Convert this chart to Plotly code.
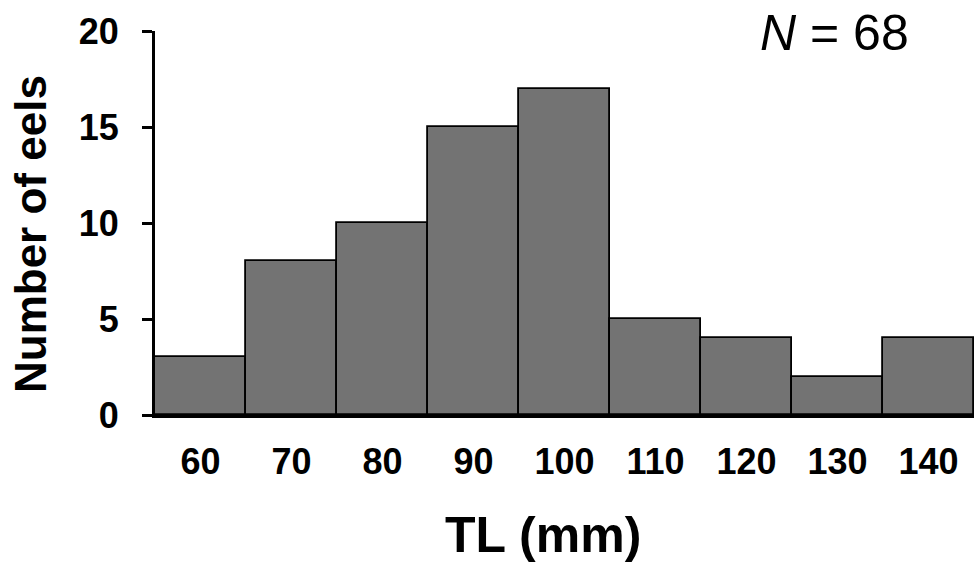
import plotly.graph_objects as go

tl_mm = [60, 70, 80, 90, 100, 110, 120, 130, 140]
n_eels = [3, 8, 10, 15, 17, 5, 4, 2, 4]
y_ticks = [0, 5, 10, 15, 20]

FONT = "Liberation Sans, Arial, sans-serif"
L, R, T, B = 155, 3, 31, 148
W, H = 977, 563
pw, ph = W - L - R, H - T - B

fig = go.Figure()
fig.add_trace(go.Bar(
    x=tl_mm, y=n_eels, width=10,
    marker=dict(color="#737373", line=dict(color="black", width=1.8)),
))

fig.update_layout(
    width=W, height=H,
    margin=dict(l=L, r=R, t=T, b=B),
    plot_bgcolor="white", paper_bgcolor="white",
    bargap=0, showlegend=False,
    font=dict(family=FONT, color="black"),
)
fig.update_xaxes(
    range=[55, 145], tickvals=tl_mm, ticktext=[str(v) for v in tl_mm],
    showline=True, linecolor="black", linewidth=3, ticks="",
    showgrid=False, zeroline=False,
    tickfont=dict(size=36, family=FONT, weight="bold"),
    ticklabelstandoff=13,
)
fig.update_yaxes(
    range=[0, 20], tickvals=y_ticks,
    showline=True, linecolor="black", linewidth=3,
    ticks="outside", ticklen=10, tickwidth=3, tickcolor="black",
    showgrid=False, zeroline=False,
    tickfont=dict(size=36, family=FONT, weight="bold"),
    ticklabelstandoff=16,
)
# axis titles
fig.add_annotation(
    x=(543 - L) / pw, y=(H - B - 535) / ph, xref="paper", yref="paper",
    xanchor="center", yanchor="middle", showarrow=False,
    text="<b>TL (mm)</b>", font=dict(size=50, family=FONT),
)
fig.add_annotation(
    x=(31 - L) / pw, y=(H - B - 234) / ph, xref="paper", yref="paper",
    xanchor="center", yanchor="middle", showarrow=False, textangle=-90,
    text="<b>Number of eels</b>", font=dict(size=44, family=FONT),
)
fig.add_annotation(
    x=(834 - L) / pw, y=(H - B - 33) / ph, xref="paper", yref="paper",
    xanchor="center", yanchor="middle", showarrow=False,
    text="<i>N</i> = 68", font=dict(size=50, family=FONT),
)
fig.write_html("out.html", config={"displayModeBar": False},
               post_script="document.body.style.margin='0px';")
